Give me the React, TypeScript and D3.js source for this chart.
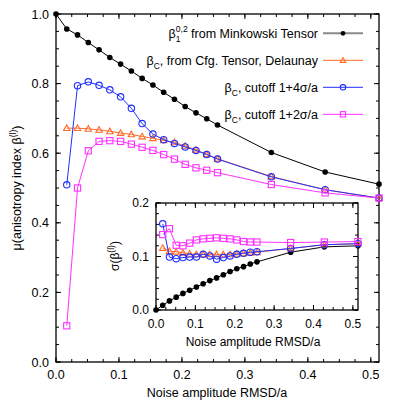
import React from "react";
import * as d3 from "d3";

// Noise amplitude RMSD/a
const noise = [0, 0.0171, 0.0342, 0.0513, 0.0684, 0.0855, 0.1026, 0.1197, 0.1368, 0.1539, 0.171, 0.1881, 0.2052, 0.2223, 0.2394, 0.2565, 0.342, 0.4275, 0.513];

// main panel: mean anisotropy
const muMinkowski = [1.0, 0.957, 0.94, 0.918, 0.897, 0.875, 0.856, 0.836, 0.815, 0.796, 0.775, 0.755, 0.734, 0.716, 0.699, 0.681, 0.602, 0.546, 0.511];
const muDelaunay = [null, 0.672, 0.672, 0.67, 0.667, 0.663, 0.658, 0.654, 0.648, 0.643, 0.637, 0.631, 0.621, 0.61, 0.597, 0.584, 0.533, 0.495, 0.471];
const muCut4 = [null, 0.509, 0.794, 0.805, 0.795, 0.782, 0.762, 0.729, 0.685, 0.655, 0.639, 0.628, 0.618, 0.608, 0.596, 0.583, 0.532, 0.495, 0.471];
const muCut2 = [null, 0.104, 0.5, 0.607, 0.634, 0.636, 0.634, 0.626, 0.617, 0.608, 0.596, 0.583, 0.568, 0.558, 0.551, 0.544, 0.51, 0.486, 0.471];

// inset: standard deviation
const sdMinkowski = [0, 0.009, 0.017, 0.024, 0.031, 0.037, 0.043, 0.049, 0.055, 0.06, 0.066, 0.072, 0.077, 0.081, 0.086, 0.09, 0.108, 0.118, 0.12];
const sdDelaunay = [null, 0.116, 0.11, 0.109, 0.107, 0.105, 0.104, 0.104, 0.104, 0.104, 0.104, 0.104, 0.105, 0.106, 0.107, 0.108, 0.115, 0.122, 0.124];
const sdCut4 = [null, 0.161, 0.099, 0.096, 0.098, 0.099, 0.099, 0.104, 0.101, 0.095, 0.098, 0.101, 0.104, 0.106, 0.108, 0.109, 0.115, 0.122, 0.124];
const sdCut2 = [null, 0.141, 0.152, 0.121, 0.12, 0.125, 0.131, 0.133, 0.134, 0.135, 0.134, 0.133, 0.131, 0.128, 0.127, 0.127, 0.126, 0.127, 0.128];

const mainXTicks = [0, 0.1, 0.2, 0.3, 0.4, 0.5];
const mainYTicks = [0, 0.2, 0.4, 0.6, 0.8, 1.0];
const insetXTicks = [0, 0.1, 0.2, 0.3, 0.4, 0.5];
const insetYTicks = [0, 0.1, 0.2];

const FONT = "'Liberation Sans', Arial, sans-serif";
const C_BLACK = "#000000";
const C_ORANGE = "#ff6a28";
const C_BLUE = "#1f2fff";
const C_MAGENTA = "#ff30ff";

type Marker = "dot" | "tri" | "circ" | "sq";

function MarkerShape({ kind, x, y, color, size = 1 }: { kind: Marker; x: number; y: number; color: string; size?: number }) {
  if (kind === "dot") return <circle cx={x} cy={y} r={2.8 * size} fill={color} />;
  if (kind === "circ") return <circle cx={x} cy={y} r={3.2 * size} fill="none" stroke={color} strokeWidth={1.1} />;
  if (kind === "sq") {
    const s = 3.1 * size;
    return <rect x={x - s} y={y - s} width={2 * s} height={2 * s} fill="none" stroke={color} strokeWidth={1.1} />;
  }
  const s = 3.2 * size;
  return <path d={`M${x},${y - s}L${x + s},${y + s * 0.75}L${x - s},${y + s * 0.75}Z`} fill="none" stroke={color} strokeWidth={1.1} />;
}

function Series({ xs, ys, sx, sy, color, kind, size = 1 }: any) {
  const pts = xs.map((x: number, i: number) => [x, ys[i]]).filter((p: any) => p[1] != null);
  const line = d3.line<any>().x((d) => sx(d[0])).y((d) => sy(d[1]));
  return (
    <g>
      <path d={line(pts) || ""} fill="none" stroke={color} strokeWidth={1} />
      {pts.map((p: any, i: number) => (
        <MarkerShape key={i} kind={kind} x={sx(p[0])} y={sy(p[1])} color={color} size={size} />
      ))}
    </g>
  );
}

function Frame({ sx, sy, xMajor, yMajor, xMinorStep, yMinorStep, fmtX, fmtY, fs, labelOffX, labelOffY }: any) {
  const [x0, x1] = sx.range();
  const [y0, y1] = sy.range(); // y0 bottom, y1 top
  const xd = sx.domain();
  const yd = sy.domain();
  const xMinor = d3.range(0, xd[1] + 1e-9, xMinorStep);
  const yMinor = d3.range(0, yd[1] + 1e-9, yMinorStep);
  const maj = 5;
  const mn = 3;
  return (
    <g>
      {xMinor.map((v: number, i: number) => (
        <g key={"xm" + i} stroke="#000" strokeWidth={1}>
          <line x1={sx(v)} x2={sx(v)} y1={y0} y2={y0 - mn} />
          <line x1={sx(v)} x2={sx(v)} y1={y1} y2={y1 + mn} />
        </g>
      ))}
      {yMinor.map((v: number, i: number) => (
        <g key={"ym" + i} stroke="#000" strokeWidth={1}>
          <line x1={x0} x2={x0 + mn} y1={sy(v)} y2={sy(v)} />
          <line x1={x1} x2={x1 - mn} y1={sy(v)} y2={sy(v)} />
        </g>
      ))}
      {xMajor.map((v: number, i: number) => (
        <g key={"xM" + i}>
          <line x1={sx(v)} x2={sx(v)} y1={y0} y2={y0 - maj} stroke="#000" />
          <line x1={sx(v)} x2={sx(v)} y1={y1} y2={y1 + maj} stroke="#000" />
          <text x={sx(v)} y={y0 + labelOffX} textAnchor="middle" fontSize={fs} fontFamily={FONT}>
            {fmtX(v)}
          </text>
        </g>
      ))}
      {yMajor.map((v: number, i: number) => (
        <g key={"yM" + i}>
          <line x1={x0} x2={x0 + maj} y1={sy(v)} y2={sy(v)} stroke="#000" />
          <line x1={x1} x2={x1 - maj} y1={sy(v)} y2={sy(v)} stroke="#000" />
          <text x={x0 - labelOffY} y={sy(v) + fs * 0.36} textAnchor="end" fontSize={fs} fontFamily={FONT}>
            {fmtY(v)}
          </text>
        </g>
      ))}
      <rect x={x0} y={y1} width={x1 - x0} height={y0 - y1} fill="none" stroke="#000" strokeWidth={1.3} />
    </g>
  );
}

export default function App() {
  const sx = d3.scaleLinear().domain([0, 0.513]).range([56, 379]);
  const sy = d3.scaleLinear().domain([0, 1]).range([362, 14]);
  const ix = d3.scaleLinear().domain([0, 0.513]).range([156, 358]);
  const iy = d3.scaleLinear().domain([0, 0.2]).range([310, 203]);
  const f1 = d3.format(".1f");

  const legend = [
    { color: C_BLACK, kind: "dot" as Marker, lineColor: "#8a8a8a", lw: 2 },
    { color: C_ORANGE, kind: "tri" as Marker, lineColor: C_ORANGE, lw: 1 },
    { color: C_BLUE, kind: "circ" as Marker, lineColor: C_BLUE, lw: 1 },
    { color: C_MAGENTA, kind: "sq" as Marker, lineColor: C_MAGENTA, lw: 1 },
  ];
  const legY = [33.3, 60.3, 87.3, 114.3];
  const legTextX = 318;
  const fsL = 12.5;

  return (
    <svg width={400} height={400} style={{ position: "absolute", left: 0, top: 0, background: "#fff" }} fontFamily={FONT}>
      <rect x={0} y={0} width={400} height={400} fill="#fff" />
      <Frame sx={sx} sy={sy} xMajor={mainXTicks} yMajor={mainYTicks} xMinorStep={0.025} yMinorStep={0.05} fmtX={f1} fmtY={f1} fs={12.5} labelOffX={16.5} labelOffY={7} />

      <Series xs={noise} ys={muMinkowski} sx={sx} sy={sy} color={C_BLACK} kind="dot" />
      <Series xs={noise} ys={muDelaunay} sx={sx} sy={sy} color={C_ORANGE} kind="tri" />
      <Series xs={noise} ys={muCut4} sx={sx} sy={sy} color={C_BLUE} kind="circ" />
      <Series xs={noise} ys={muCut2} sx={sx} sy={sy} color={C_MAGENTA} kind="sq" />

      {/* legend */}
      {legend.map((l, i) => (
        <g key={i}>
          <line x1={323} x2={363} y1={legY[i]} y2={legY[i]} stroke={l.lineColor} strokeWidth={l.lw} />
          <MarkerShape kind={l.kind} x={343} y={legY[i]} color={l.color} size={0.85} />
        </g>
      ))}
      <text x={legTextX} y={legY[0] + 4.5} textAnchor="end" fontSize={fsL}>
        β<tspan fontSize={8.5} dy={4}>1</tspan>
        <tspan fontSize={8.5} dx={-4.7} dy={-10}>0,2</tspan>
        <tspan dy={6}> from Minkowski Tensor</tspan>
      </text>
      <text x={legTextX} y={legY[1] + 4.5} textAnchor="end" fontSize={fsL}>
        β<tspan fontSize={8.5} dy={4}>C</tspan>
        <tspan dy={-4}>, from Cfg. Tensor, Delaunay</tspan>
      </text>
      <text x={legTextX} y={legY[2] + 4.5} textAnchor="end" fontSize={fsL}>
        β<tspan fontSize={8.5} dy={4}>C</tspan>
        <tspan dy={-4}>, cutoff 1+4σ/a</tspan>
      </text>
      <text x={legTextX} y={legY[3] + 4.5} textAnchor="end" fontSize={fsL}>
        β<tspan fontSize={8.5} dy={4}>C</tspan>
        <tspan dy={-4}>, cutoff 1+2σ/a</tspan>
      </text>

      {/* axis labels */}
      <text x={217} y={397} textAnchor="middle" fontSize={12.5}>Noise amplitude RMSD/a</text>
      <text transform="translate(21,188) rotate(-90)" textAnchor="middle" fontSize={12.5}>
        μ(anisotropy index β<tspan fontSize={8.5} dy={-5}>(l)</tspan><tspan dy={5}>)</tspan>
      </text>

      {/* inset */}
      <rect x={156} y={203} width={202} height={107} fill="#fff" />
      <Frame sx={ix} sy={iy} xMajor={insetXTicks} yMajor={insetYTicks} xMinorStep={0.025} yMinorStep={0.02} fmtX={f1} fmtY={f1} fs={12} labelOffX={17.5} labelOffY={7} />
      <Series xs={noise} ys={sdMinkowski} sx={ix} sy={iy} color={C_BLACK} kind="dot" />
      <Series xs={noise} ys={sdDelaunay} sx={ix} sy={iy} color={C_ORANGE} kind="tri" />
      <Series xs={noise} ys={sdCut4} sx={ix} sy={iy} color={C_BLUE} kind="circ" />
      <Series xs={noise} ys={sdCut2} sx={ix} sy={iy} color={C_MAGENTA} kind="sq" />
      <text x={253} y={346} textAnchor="middle" fontSize={12}>Noise amplitude RMSD/a</text>
      <text transform="translate(119,256) rotate(-90)" textAnchor="middle" fontSize={12}>
        σ(β<tspan fontSize={8.5} dy={-5}>(l)</tspan><tspan dy={5}>)</tspan>
      </text>
    </svg>
  );
}
